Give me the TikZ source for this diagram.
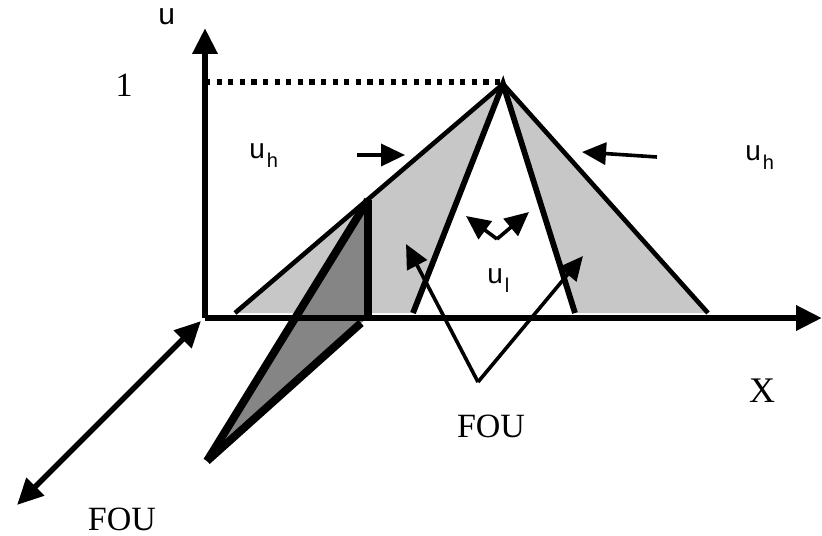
\documentclass[tikz,border=0pt]{standalone}
\usepackage{fontspec}
\setmainfont{Liberation Serif}
\newfontfamily\labfont{Liberation Sans}
\usetikzlibrary{arrows.meta}
\definecolor{lightfou}{gray}{0.78}
\definecolor{darkfou}{gray}{0.52}
\newcommand{\mfn}[2]{{\labfont\fontsize{14}{14}\selectfont #1\hspace{1pt}\raisebox{-4.5pt}{\fontsize{10}{10}\selectfont #2}}}

\begin{document}
\begin{tikzpicture}[x=0.5pt,y=-0.5pt,
  axis/.style={line width=3.2pt},
  edge/.style={line width=2.3pt},
  inner/.style={line width=2.9pt},
  thick edge/.style={line width=4pt},
  tip/.style={-{Triangle[length=13pt,width=12pt]}},
  pointer/.style={line width=1.8pt, -{Triangle[length=12pt,width=11pt]}}]
\useasboundingbox (0,0) rectangle (822,535);
% points
\coordinate (o) at (205,318);
\coordinate (utop) at (205,28);
\coordinate (xend) at (822,318);
\coordinate (zin) at (201,321);
\coordinate (zout) at (17,505);
\coordinate (peak) at (503,84);
\coordinate (one) at (205,82);
\coordinate (oleft) at (235,313);
\coordinate (oright) at (708,313);
\coordinate (ileft) at (413,313);
\coordinate (iright) at (575,313);
\coordinate (dtop) at (368,200);
\coordinate (dbase) at (368,318);
\coordinate (dlow) at (207,461);
\coordinate (dright) at (361,323);
% fills
\fill[lightfou] (oleft) -- (peak) -- (oright) -- cycle;
\fill[white] (ileft) -- (peak) -- (iright) -- cycle;
\fill[darkfou] (dlow) -- (dtop) -- (dbase) -- (dright) -- cycle;
% triangles
\draw[edge] (oleft) -- (peak) -- (oright);
\draw[inner] (ileft) -- (peak) -- (iright);
\draw[dash pattern=on 2.6pt off 3.2pt, line width=2.6pt] (one) -- (500,82);
% axes
\draw[axis,tip] (o) -- (utop);
\draw[axis,tip] (o) -- (xend);
\draw[line width=2.8pt,{Triangle[length=13pt,width=12pt]}-{Triangle[length=13pt,width=12pt]}] (zin) -- (zout);
% FOU slice
\draw[thick edge] (dlow) -- (dtop);
\draw[thick edge] (dlow) -- (dright);
\draw[line width=4.4pt] (dtop) -- (dbase);
% labels
\node (u) [anchor=base west, inner sep=0] at (158,25) {\labfont\fontsize{15}{15}\selectfont u};
\node (l1) [anchor=base, inner sep=0, font=\fontsize{17}{20}\selectfont] at (124,97) {1};
\node (uh1) [anchor=base west, inner sep=0] at (249,158) {\mfn{u}{h}};
\node (uh2) [anchor=base west, inner sep=0] at (745,160) {\mfn{u}{h}};
\node (ul) [anchor=base west, inner sep=0] at (487,283) {\mfn{u}{l}};
\node (x) [anchor=base, inner sep=0, font=\fontsize{18}{20}\selectfont] at (762,402) {X};
\node (fou1) [anchor=base, inner sep=0, font=\fontsize{17}{20}\selectfont] at (491,437) {FOU};
\node (fou2) [anchor=base, inner sep=0, font=\fontsize{17}{20}\selectfont] at (122,530) {FOU};
% pointers
\coordinate (ha) at (357,155);
\coordinate (hb) at (405,155);
\coordinate (hc) at (657,157);
\coordinate (hd) at (582,152);
\draw[pointer] (ha) -- (hb);
\draw[pointer] (hc) -- (hd);
\coordinate (lv) at (497,239);
\coordinate (la) at (466,216);
\coordinate (lb) at (529,212);
\draw[pointer] (lv) -- (la);
\draw[pointer] (lv) -- (lb);
\coordinate (vb) at (478,382);
\coordinate (va) at (406,244);
\coordinate (vc) at (583,256);
\draw[pointer] (vb) -- (va);
\draw[pointer] (vb) -- (vc);
\end{tikzpicture}
\end{document}
